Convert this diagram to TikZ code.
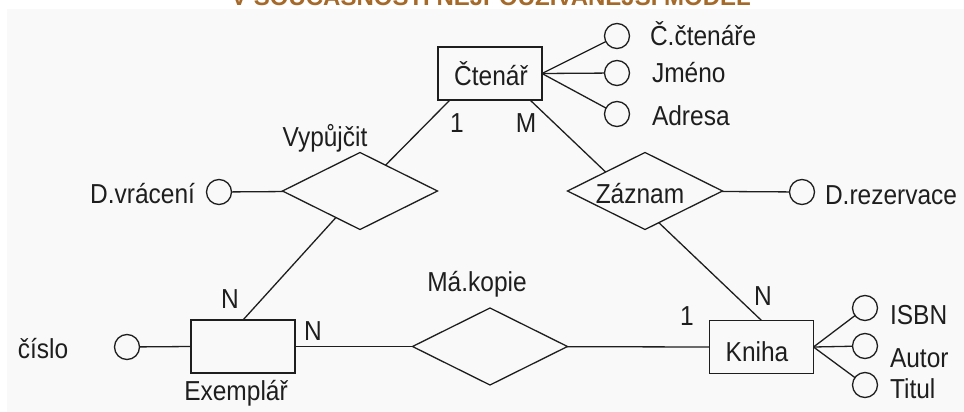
\documentclass[tikz,border=0pt]{standalone}
\usepackage{fontspec}
\setmainfont{Liberation Sans}
\usetikzlibrary{shapes.geometric,calc}
\definecolor{panel}{HTML}{F9F9F9}
\definecolor{titlecol}{HTML}{A5692A}
\definecolor{ink}{HTML}{1E1E1E}
\pgfdeclarelayer{back}
\pgfsetlayers{back,main}
% slightly tall lettering, as in the old diagram font
\newcommand\erlabel[1]{\scalebox{1}[1.12]{#1}}

\begin{document}
\begin{tikzpicture}[x=1pt,y=-1pt,
  every node/.style={font=\fontsize{24.5}{28}\selectfont, text=ink, inner sep=0pt, outer sep=0pt},
  conn/.style={draw=ink, line width=1.3pt},
  entity/.style={rectangle, draw=ink, line width=1.3pt, fill=panel, minimum width=104pt, minimum height=53pt},
  relation/.style={diamond, draw=ink, line width=1.3pt, fill=panel, minimum width=155pt, minimum height=77pt},
  attr/.style={circle, draw=ink, line width=1.3pt, fill=panel, minimum size=25pt},
  lbl/.style={anchor=base},
  lblw/.style={anchor=base west},
  lble/.style={anchor=base east},
  heading/.style={anchor=base, font=\bfseries\fontsize{24}{28}\selectfont, text=titlecol}
]
\useasboundingbox (0,0) rectangle (964,412);

\begin{pgfonlayer}{back}
  \fill[panel] (7,9) rectangle (964,412);
\end{pgfonlayer}

% heading strip
\node[heading] (title) at (491,6) {V SOUČASNOSTI NEJPOUŽÍVANĚJŠÍ MODEL};

% entities
\node[entity] (ctenar) at (490,73.5) {};
\node[lbl] (ctenartxt) at (491,85) {\erlabel{Čtenář}};
\node[entity] (exemplar) at (243,346.5) {};
\node[lbl] (exemplartxt) at (236,400) {\erlabel{Exemplář}};
\node[entity] (kniha) at (761.5,347) {};
\node[lbl] (knihatxt) at (757,361) {\erlabel{Kniha}};

% relationships
\node[relation] (vyp) at (360,191) {};
\node[lbl] (vyptxt) at (325,146) {\erlabel{Vypůjčit}};
\node[relation] (zaz) at (645,191) {};
\node[lbl] (zaztxt) at (640,203) {\erlabel{Záznam}};
\node[relation] (kop) at (490,346.5) {};
\node[lbl] (koptxt) at (477,291) {\erlabel{Má.kopie}};

% attributes
\node[attr] (cc) at (617,36) {};
\node[lblw] (cctxt) at (650,46) {\erlabel{Č.čtenáře}};
\node[attr] (jm) at (617,73) {};
\node[lblw] (jmtxt) at (652,82) {\erlabel{Jméno}};
\node[attr] (adr) at (617,114) {};
\node[lblw] (adrtxt) at (652,125) {\erlabel{Adresa}};
\node[attr] (dvr) at (219,192) {};
\node[lble] (dvrtxt) at (195,203) {\erlabel{D.vrácení}};
\node[attr] (drez) at (802,192) {};
\node[lblw] (dreztxt) at (825,204) {\erlabel{D.rezervace}};
\node[attr] (cis) at (127,347) {};
\node[lbl] (cistxt) at (43,358) {\erlabel{číslo}};
\node[attr] (isbn) at (865,308) {};
\node[lblw] (isbntxt) at (890,324) {\erlabel{ISBN}};
\node[attr] (aut) at (865,346) {};
\node[lblw] (auttxt) at (890,367) {\erlabel{Autor}};
\node[attr] (tit) at (865,385) {};
\node[lblw] (tittxt) at (890,398) {\erlabel{Titul}};

% cardinalities
\node[lbl] (c1) at (457,132) {\erlabel{1}};
\node[lbl] (cM) at (526,132) {\erlabel{M}};
\node[lbl] (cN1) at (230,308) {\erlabel{N}};
\node[lbl] (cN2) at (313,340) {\erlabel{N}};
\node[lbl] (c1b) at (687,325) {\erlabel{1}};
\node[lbl] (cN3) at (763,305) {\erlabel{N}};

% connectors, kept behind the shapes
\begin{pgfonlayer}{back}
  \draw[conn] (ctenar.east) -- (cc);
  \draw[conn] (ctenar.east) -- (jm);
  \draw[conn] (ctenar.east) -- (adr);
  \draw[conn] ($(ctenar.south west)!0.115!(ctenar.south east)$) -- (vyp);
  \draw[conn] (exemplar.north) -- (vyp);
  \draw[conn] ($(ctenar.south west)!0.885!(ctenar.south east)$) -- (kniha.north);
  \draw[conn] (dvr) -- (vyp);
  \draw[conn] (zaz) -- (drez);
  \draw[conn] (cis) -- (exemplar.west);
  \draw[conn] (exemplar.east) -- (kop);
  \draw[conn] (kop) -- (kniha.west);
  \draw[conn] (kniha.east) -- (isbn);
  \draw[conn] (kniha.east) -- (aut);
  \draw[conn] (kniha.east) -- (tit);
\end{pgfonlayer}
\end{tikzpicture}
\end{document}
